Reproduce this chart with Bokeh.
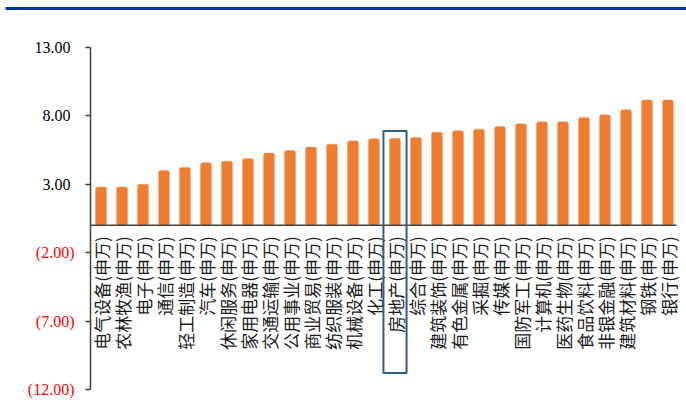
import math
from bokeh.plotting import figure
from bokeh.models import Range1d, FixedTicker, ColumnDataSource
from bokeh.core.properties import value
from bokeh.embed import file_html
from bokeh.resources import INLINE

categories = ["电气设备(申万)", "农林牧渔(申万)", "电子(申万)", "通信(申万)", "轻工制造(申万)",
              "汽车(申万)", "休闲服务(申万)", "家用电器(申万)", "交通运输(申万)", "公用事业(申万)",
              "商业贸易(申万)", "纺织服装(申万)", "机械设备(申万)", "化工(申万)", "房地产(申万)",
              "综合(申万)", "建筑装饰(申万)", "有色金属(申万)", "采掘(申万)", "传媒(申万)",
              "国防军工(申万)", "计算机(申万)", "医药生物(申万)", "食品饮料(申万)", "非银金融(申万)",
              "建筑材料(申万)", "钢铁(申万)", "银行(申万)"]
values = [2.80, 2.80, 3.00, 4.00, 4.23, 4.58, 4.69, 4.89, 5.28, 5.47,
          5.72, 5.93, 6.18, 6.33, 6.37, 6.42, 6.81, 6.91, 7.03, 7.23,
          7.42, 7.57, 7.58, 7.88, 8.08, 8.45, 9.17, 9.17]
y_ticks = [-12, -7, -2, 3, 8, 13]
pos_tick_labels = {13: "13.00", 8: "8.00", 3: "3.00"}
neg_tick_values = [-2, -7, -12]
neg_tick_labels = ["(2.00)", "(7.00)", "(12.00)"]
highlight = "房地产(申万)"

n = len(categories)
idx = list(range(n))
src = ColumnDataSource(dict(x=idx, top=values, label=categories))

W, H = 686, 408
px_x = 21.0            # pixels per category
px_y = 342.0 / 25.0    # pixels per y unit
ax_px, top_px = 90.0, 47.0   # axis position and top tick position in the canvas
x0 = -0.5 - ax_px / px_x
x1 = x0 + W / px_x
y1 = 13 + top_px / px_y
y0 = y1 - H / px_y

p = figure(width=W, height=H, output_backend="svg", toolbar_location=None,
           x_range=Range1d(x0, x1), y_range=Range1d(y0, y1),
           min_border=0, min_border_left=0, min_border_right=0,
           min_border_top=0, min_border_bottom=0)
p.outline_line_color = None
p.grid.visible = False
p.xaxis.visible = False

yax = p.yaxis[0]
yax.fixed_location = -0.5
yax.ticker = FixedTicker(ticks=y_ticks)
yax.bounds = (-12, 13)
yax.major_label_overrides = {t: pos_tick_labels.get(t, "") for t in y_ticks}
yax.major_label_text_font = "Liberation Serif"
yax.major_label_text_font_size = "16px"
yax.major_label_text_color = "#000000"
yax.major_label_standoff = 15
yax.major_tick_out = 5
yax.major_tick_in = 0
yax.minor_tick_line_color = None
yax.axis_line_color = "#404040"
yax.axis_line_width = 1.5
yax.major_tick_line_color = "#404040"
yax.major_tick_line_width = 1.5

# red negative tick labels
p.text(x=[-0.5] * len(neg_tick_values), y=neg_tick_values, text=neg_tick_labels,
       x_offset=-16, text_align="right", text_baseline="middle",
       text_font=value("Liberation Serif"), text_font_size="16px", text_color="#FF0000")

# bars
p.vbar(x="x", top="top", bottom=0, width=0.52, source=src,
       fill_color="#ED7D31", line_color="#F29A5C", line_width=0.5, border_radius=2)

# zero line
p.segment(x0=-0.5, y0=0, x1=n - 0.6, y1=0, line_color="#404040", line_width=1.5)

# category labels
p.text(x="x", y=0, text="label", source=src, angle=math.pi / 2,
       text_align="right", text_baseline="middle", y_offset=11,
       text_font=value("Noto Sans CJK SC"), text_font_size="17px", text_color="#1a1a1a")

# highlight box
hi = categories.index(highlight)
p.quad(left=hi - 0.55, right=hi + 0.55, bottom=-10.8, top=6.9,
       fill_color=None, line_color="#2F5D8A", line_width=2)

# top rule
p.segment(x0=x0 + 5 / px_x, y0=y1 - 8 / px_y, x1=x1, y1=y1 - 8 / px_y,
          line_color="#003594", line_width=3)

open("out.html", "w").write(file_html(p, INLINE))
